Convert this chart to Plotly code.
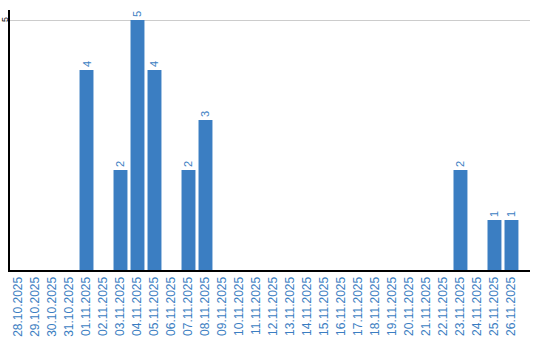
import plotly.graph_objects as go

dates = ["28.10.2025", "29.10.2025", "30.10.2025", "31.10.2025"] + [f"{d:02d}.11.2025" for d in range(1, 27)]
values = [0, 0, 0, 0, 4, 0, 2, 5, 4, 0, 2, 3,
          0, 0, 0, 0, 0, 0, 0, 0, 0, 0, 0, 0, 0, 0,
          2, 0, 1, 1]
labels = [str(v) if v else "" for v in values]
y_ticks = [5]

blue = "#3b7ec2"
fig = go.Figure(go.Bar(
    x=list(range(len(dates))), y=values, text=labels,
    textposition="outside", textangle=-90,
    textfont=dict(color=blue, size=11, family="Liberation Sans"),
    marker=dict(color=blue, line=dict(width=0)),
    cliponaxis=False,
))
for t in y_ticks:
    fig.add_annotation(x=0, xref="paper", y=t, yref="y", text=str(t), showarrow=False,
                       textangle=-90, xanchor="center", yanchor="middle", xshift=-5,
                       font=dict(color="black", size=9, family="Liberation Sans"))
fig.update_layout(
    width=540, height=340, margin=dict(l=10, r=10, t=10, b=70, autoexpand=False),
    plot_bgcolor="white", paper_bgcolor="white", showlegend=False, bargap=0.18,
    xaxis=dict(range=[-0.5, 30.09], tickmode="array", tickvals=list(range(len(dates))),
               ticktext=dates, tickangle=-90, showgrid=False, showline=True,
               linecolor="black", linewidth=2, ticks="", automargin=False,
               tickfont=dict(color=blue, size=12, family="Liberation Sans")),
    yaxis=dict(range=[0, 5.2], tickvals=y_ticks, showticklabels=False,
               showgrid=True, gridcolor="#cccccc", gridwidth=1, showline=True,
               linecolor="black", linewidth=2, ticks="", zeroline=False, automargin=False),
    font=dict(family="Liberation Sans"),
)
fig.write_html("out.html")
